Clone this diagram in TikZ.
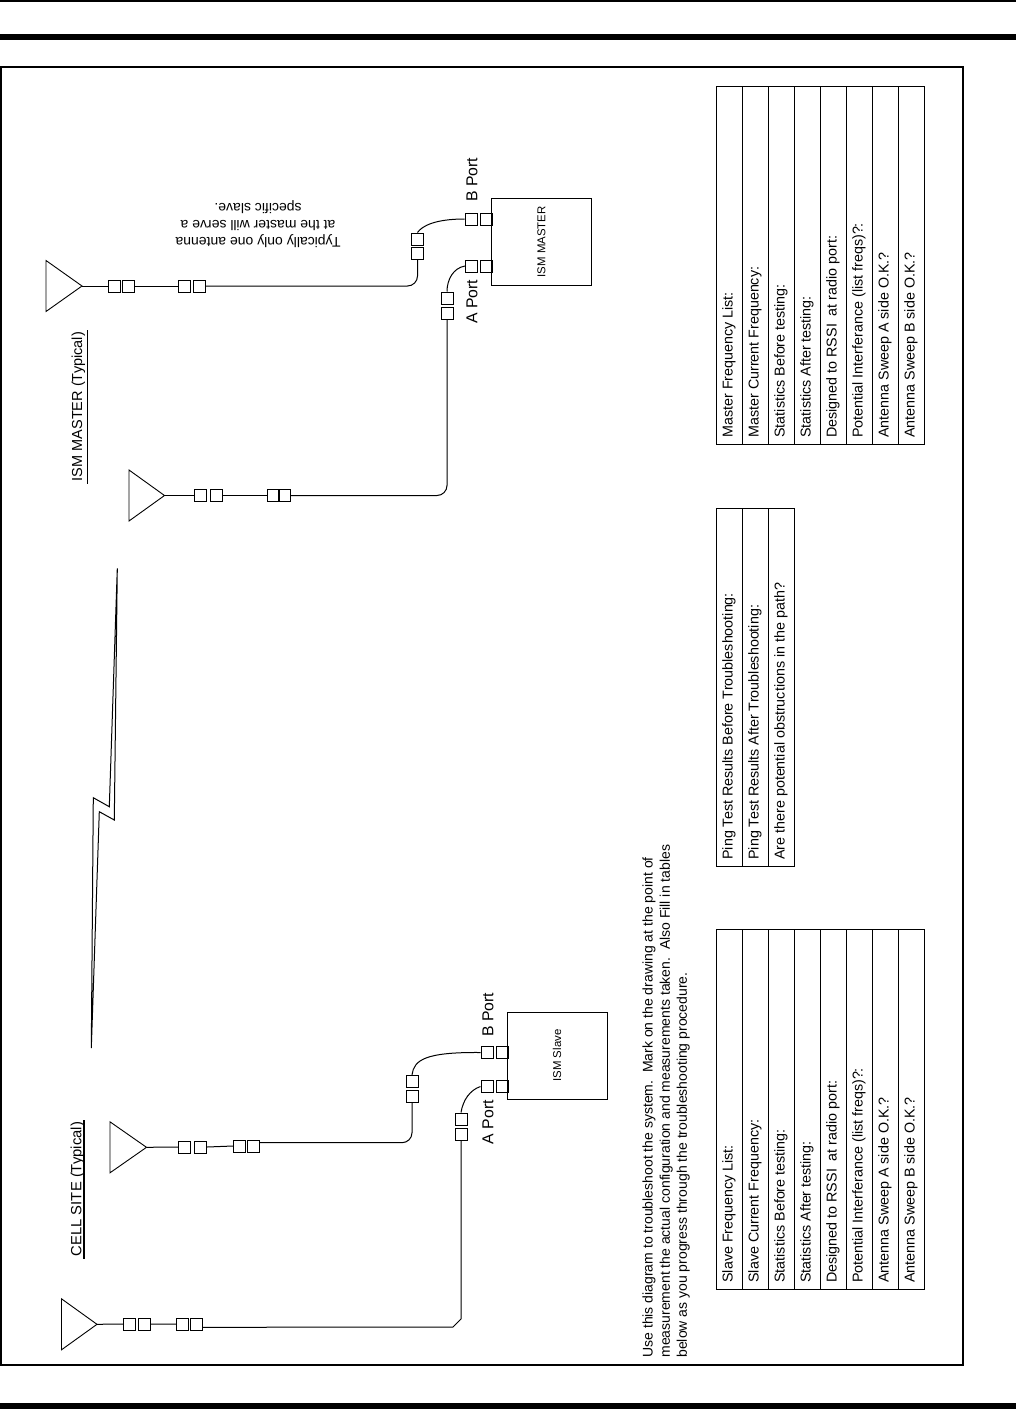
\documentclass[tikz,border=0pt]{standalone}
\usepackage{fontspec}
\setmainfont{Liberation Sans}
\usetikzlibrary{calc}
\tikzset{
 every node/.style={font=\fontsize{7}{8.6}\selectfont},
 plug/.style={draw,line width=0.5pt,minimum size=6pt,inner sep=0pt},
 radio/.style={draw,line width=0.5pt,rotate=90,minimum width=43.5pt,minimum height=50pt,
  inner sep=0pt,font=\fontsize{5.7}{7}\selectfont},
 antenna/.style={draw,line width=0.45pt},
 cable/.style={draw,line width=0.5pt},
 kgrid/.style={draw,line width=0.5pt},
 celltext/.style={rotate=90,anchor=west,inner sep=0pt,font=\fontsize{7.15}{9}\selectfont},
 portlabel/.style={rotate=90,anchor=west,inner sep=0pt,font=\fontsize{7.9}{9}\selectfont},
 sitelabel/.style={rotate=90,anchor=west,inner sep=1pt,font=\fontsize{7.25}{9}\selectfont}}

\begin{document}
\begin{tikzpicture}[x=.5pt,y=-.5pt]
\useasboundingbox (0,0) rectangle (1016,1409);
% Page rules and the frame round the drawing.
\draw[line width=1pt] (0,1)--(1016,1);
\draw[line width=3pt] (0,37)--(1016,37);
\draw[line width=3pt] (0,1405.5)--(1016,1405.5);
\draw[line width=1pt] (1,67) rectangle (963,1365);
% Radios.
\node[radio] (master) at (541.5,241.7){ISM MASTER};
\node[radio] (slave) at (557,1055.5){ISM Slave};
% Antennas: name, tip x, tip y, back x.
\foreach \n/\x/\y/\b in {antmb/82/286/46,antma/164.5/495.5/129,antsb/146.5/1147.3/110,antsa/97/1324.3/61.5}
 {\coordinate (\n) at (\x,\y);
  \draw[antenna] (\n)--(\b,\y-25.5)--(\b,\y+25.5)--cycle;}
% Connector squares of the master side.
\foreach \n/\x/\y in {mb1/471/219,mb0/486/219,ma1/471.5/266,ma0/486/266,
 mbv1/417.5/239,mbv2/417.5/253,mav1/447/298,mav2/447/313,
 mbh1/114.5/286,mbh2/128/286,mbh3/184.5/286,mbh4/199/286,
 mah1/200.5/495.5,mah2/216/495.5,mah3/273.5/495.5,mah4/284/495.5}
 {\node[plug] (\n) at (\x,\y){};}
% Connector squares of the slave side.
\foreach \n/\x/\y in {sb1/487/1052.5,sb0/502/1052.5,sa1/487/1086.5,sa0/502/1086.5,
 sbv1/412/1081.3,sbv2/412/1096,sav1/461/1119,sav2/461/1134.5,
 sbh1/184.5/1147,sbh2/200.5/1147,sbh3/239.5/1146,sbh4/253.6/1146,
 sah1/129.7/1324,sah2/144/1324,sah3/182.4/1324,sah4/196.5/1324}
 {\node[plug] (\n) at (\x,\y){};}
% Cables, from the antenna end up to the radio port.
\draw[cable] (antmb)--(mbh1.west) (mbh2.east)--(mbh3.west);
\draw[cable,rounded corners=5pt] (mbh4.east)-|(mbv2.south);
\draw[cable] (mbv1.north) .. controls (422,226) and (435,219) .. (mb1.west);
\draw[cable] (antma)--(mah1.west) (mah2.east)--(mah3.west);
\draw[cable,rounded corners=5pt] (mah4.east)-|(mav2.south);
\draw[cable] (mav1.north) .. controls (447,280) and (453,268) .. (ma1.west);
\draw[cable] (antsb)--(sbh1.west) (sbh2.east)--(sbh3.west);
\draw[cable,rounded corners=5pt] (sbh4.27)-|(sbv2.south);
\draw[cable] (sbv1.north) .. controls (414,1060) and (425,1052) .. (sb1.west);
\draw[cable] (antsa)--(sah1.west) (sah2.east)--(sah3.west);
\draw[cable] (sah4.-27)--(453,1327)--(461,1319)--(sav2.south);
\draw[cable] (sav1.north) .. controls (463,1100) and (470,1090) .. (sa1.west);
% Radio link between the sites.
\draw[line width=0.5pt] (117.3,568.3)--(109.3,806.7)--(93.3,797.7)--(91.3,1048)
 --(99.3,811.7)--(114.3,820)--cycle;
% Port and site labels.
\node[portlabel] (mbport) at (472,202){B Port};
\node[portlabel] (maport) at (472,324){A Port};
\node[portlabel] (sbport) at (488,1037){B Port};
\node[portlabel] (saport) at (488,1144.5){A Port};
\node[sitelabel] (mastersite) at (78.5,483.5){ISM MASTER (Typical)};
\node[sitelabel,font=\fontsize{7.4}{9}\selectfont] (cellsite) at (77.5,1258.5){CELL SITE (Typical)};
\draw[line width=0.5pt] (mastersite.south west)--(mastersite.south east);
\draw[line width=1pt] ([xshift=-1.5pt]cellsite.south west)--([xshift=-1.5pt]cellsite.south east);
\node[rotate=180,align=center,inner sep=0pt] (mnote) at (258,224)
 {Typically only one antenna\\at the master will serve a\\specific slave.};
% Instruction text.
\node[rotate=90,anchor=north west,align=left,inner sep=0pt] (howto) at (642,1358)
 {Use this diagram to troubleshoot the system.\ \ Mark on the drawing at the point of\\
  measurement the actual configuration and measurements taken.\ \ Also Fill in tables\\
  below as you progress through the troubleshooting procedure.};
% Tables: master, ping and slave.
\draw[kgrid] (716,86) rectangle (924,444);
\foreach \j in {1,...,7}
 {\draw[kgrid] (716+26*\j,86)--(716+26*\j,444);}
\foreach \s [count=\j from 0] in {Master Frequency List:,Master Current Frequency:,
 Statistics Before testing:,Statistics After testing:,Designed to RSSI\ \ at radio port:,
 Potential Interferance (list freqs)?:,Antenna Sweep A side O.K.?,Antenna Sweep B side O.K.?}
 {\node[celltext] (mrow\j) at (729+26*\j,438){\s};}
\draw[kgrid] (716,508) rectangle (794,866);
\foreach \j in {1,2}
 {\draw[kgrid] (716+26*\j,508)--(716+26*\j,866);}
\foreach \s [count=\j from 0] in {Ping Test Results Before Troubleshooting:,
 Ping Test Results After Troubleshooting:,Are there potential obstructions in the path?}
 {\node[celltext] (prow\j) at (729+26*\j,860){\s};}
\draw[kgrid] (716,929) rectangle (924,1289);
\foreach \j in {1,...,7}
 {\draw[kgrid] (716+26*\j,929)--(716+26*\j,1289);}
\foreach \s [count=\j from 0] in {Slave Frequency List:,Slave Current Frequency:,
 Statistics Before testing:,Statistics After testing:,Designed to RSSI\ \ at radio port:,
 Potential Interferance (list freqs)?:,Antenna Sweep A side O.K.?,Antenna Sweep B side O.K.?}
 {\node[celltext] (srow\j) at (729+26*\j,1283){\s};}
\end{tikzpicture}
\end{document}
